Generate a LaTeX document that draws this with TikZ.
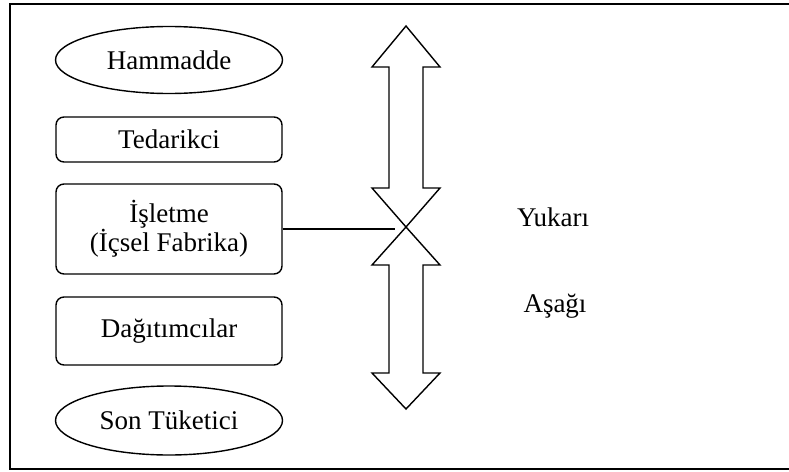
\documentclass[tikz,border=0pt]{standalone}
\usepackage{fontspec}
\setmainfont{Liberation Serif}
\usetikzlibrary{shapes.geometric}
\begin{document}
\begin{tikzpicture}[x=1pt,y=-1pt,line width=1.4pt,line join=miter,
  every node/.style={font=\fontsize{27pt}{29pt}\selectfont},
  stagebox/.style={draw,rounded corners=8pt,minimum width=226pt,inner sep=0pt,align=center},
  stageoval/.style={draw,ellipse,minimum width=227pt,minimum height=67pt,inner sep=0pt},
  flowarrow/.style={draw,line width=1.4pt}]
\useasboundingbox (0,0) rectangle (789,471);
% outer frame
\draw (789,4) -- (10,4) -- (10,469) -- (789,469);

% supply chain stages
\node[stageoval] (ham) at (169,60) {Hammadde};
\node[stagebox,minimum height=45pt] (ted) at (169,139.5) {Tedarikci};
\node[stagebox,minimum height=90pt] (isl) at (169,229) {İşletme\\(İçsel Fabrika)};
\node[stagebox,minimum height=68pt] (dag) at (169,331) {Dağıtımcılar};
\node[stageoval,minimum height=69pt] (son) at (169,420.5) {Son Tüketici};

% direction labels
\node (yuk) at (553,217) {Yukarı};
\node (asa) at (555,306) {Aşağı};

% upstream / downstream double arrows
\coordinate (cross) at (406,227);
\coordinate (lineend) at (395,229);
\draw[flowarrow] (406,26) -- (440,67) -- (423,67) -- (423,188) -- (440,188) -- (cross)
  -- (372,188) -- (389,188) -- (389,67) -- (372,67) -- cycle;
\draw[flowarrow] (cross) -- (440,265) -- (423,265) -- (423,373) -- (440,373) -- (406,409)
  -- (372,373) -- (389,373) -- (389,265) -- (372,265) -- cycle;

% link from the firm to the crossing
\draw (isl.east) -- (lineend);
\end{tikzpicture}
\end{document}
